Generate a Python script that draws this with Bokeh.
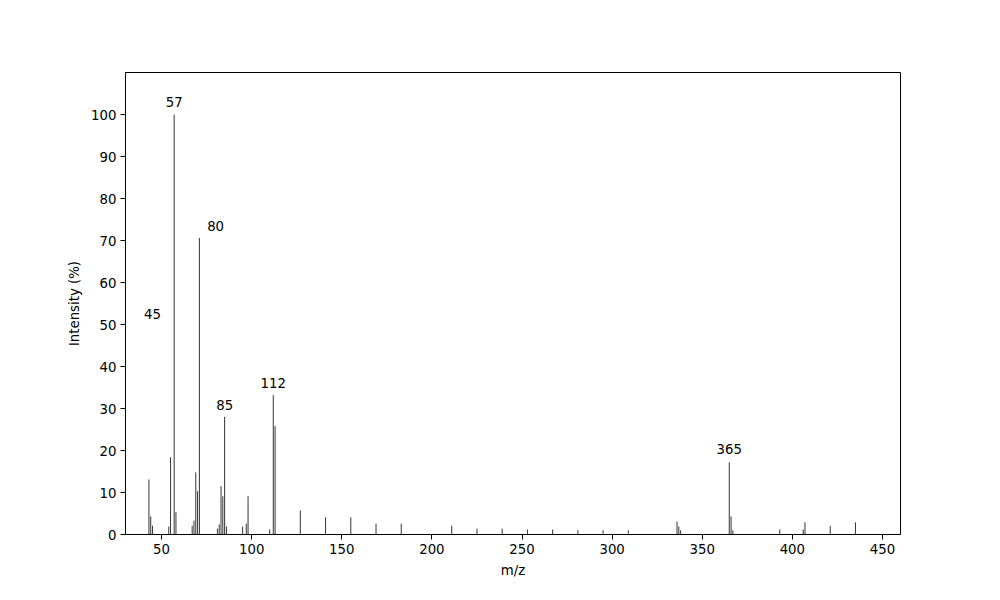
from bokeh.plotting import figure
from bokeh.models import ColumnDataSource, FixedTicker, Range1d
from bokeh.core.properties import value
from bokeh.embed import file_html
from bokeh.resources import INLINE

# m/z values and relative intensities (%)
mz = [43, 44, 45, 54, 55, 57, 58, 67, 68, 69, 70, 71, 81, 82, 83, 84, 85, 86,
      95, 97, 98, 110, 112, 113, 127, 141, 155, 169, 183, 211, 225, 239, 253,
      267, 281, 295, 309, 336, 337, 338, 365, 366, 367, 393, 406, 407, 421, 435]
intensity = [13.1, 4.3, 2.1, 1.9, 18.4, 100.0, 5.3, 2.1, 3.3, 14.8, 10.3, 70.6,
             1.4, 2.4, 11.5, 9.1, 28.0, 1.9, 1.9, 2.6, 9.1, 1.2, 33.2, 25.8,
             5.7, 4.1, 4.1, 2.6, 2.6, 2.1, 1.4, 1.4, 1.2, 1.2, 1.0, 1.0, 1.0,
             3.1, 1.9, 1.0, 17.2, 4.3, 1.0, 1.2, 1.2, 2.9, 2.1, 2.9]

# annotations
label_text = ["45", "57", "80", "85", "112", "365"]
label_mz = [45, 57, 80, 85, 112, 365]
label_y = [52.5, 103.0, 73.4, 30.8, 36.0, 20.3]

x_ticks = [50, 100, 150, 200, 250, 300, 350, 400, 450]
y_ticks = [0, 10, 20, 30, 40, 50, 60, 70, 80, 90, 100]

FONT = "DejaVu Sans"

p = figure(width=992, height=592, output_backend="svg", toolbar_location=None,
           x_range=Range1d(30, 460), y_range=Range1d(0, 110),
           min_border_left=125, min_border_right=92, min_border_top=72,
           min_border_bottom=58)

src = ColumnDataSource(dict(x=mz, top=intensity, bottom=[0] * len(mz)))
p.segment(x0="x", y0="bottom", x1="x", y1="top", source=src,
          line_color="#333333", line_width=1)

lsrc = ColumnDataSource(dict(x=label_mz, y=label_y, t=label_text))
p.text(x="x", y="y", text="t", source=lsrc, text_align="center",
       text_baseline="alphabetic", text_font=value(FONT),
       text_font_size="13.3px", text_color="black")

p.xgrid.visible = False
p.ygrid.visible = False
p.outline_line_color = "black"
p.outline_line_width = 1
p.outline_line_alpha = 1.0

p.xaxis.ticker = FixedTicker(ticks=x_ticks)
p.yaxis.ticker = FixedTicker(ticks=y_ticks)
p.xaxis.axis_label = "m/z"
p.yaxis.axis_label = "Intensity (%)"
for ax in (p.xaxis[0], p.yaxis[0]):
    ax.axis_label_text_font = FONT
    ax.axis_label_text_font_size = "13.3px"
    ax.axis_label_text_font_style = "normal"
    ax.axis_label_text_color = "black"
    ax.major_label_text_font = FONT
    ax.major_label_text_font_size = "13.3px"
    ax.major_label_text_color = "black"
    ax.major_tick_in = 0
    ax.major_tick_out = 5
    ax.minor_tick_in = 0
    ax.minor_tick_out = 0
    ax.axis_line_color = "black"
    ax.major_tick_line_color = "black"
p.xaxis.axis_label_standoff = 6
p.yaxis.axis_label_standoff = 6
p.xaxis.major_label_standoff = 4
p.yaxis.major_label_standoff = 4

open("out.html", "w").write(file_html(p, INLINE))
